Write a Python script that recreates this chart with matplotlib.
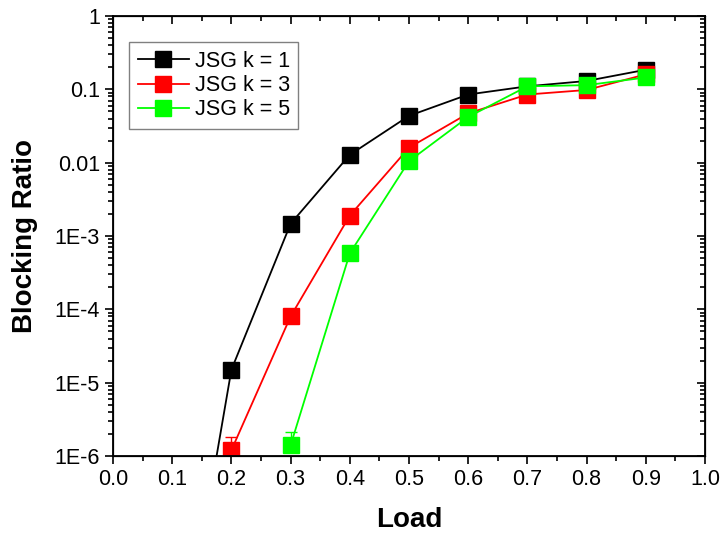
import matplotlib
matplotlib.use('Agg')
import matplotlib.pyplot as plt
from matplotlib.lines import Line2D
import numpy as np

plt.rcParams['font.family'] = ['Liberation Sans', 'DejaVu Sans']

load = [0.1, 0.2, 0.3, 0.4, 0.5, 0.6, 0.7, 0.8, 0.9]

# blocking ratio per series (nan = zero / not drawn on log axis)
k1 = [3e-10, 1.5e-5, 1.47e-3, 0.0128, 0.0435, 0.085, 0.11, 0.13, 0.185]
k1_err = [0, 1e-6, 5e-5, 4e-4, 1e-3, 2e-3, 5e-3, 6e-3, 8e-3]
k3 = [np.nan, 1.2e-6, 8.0e-5, 1.9e-3, 0.016, 0.047, 0.085, 0.098, 0.16]
k3_err = [0, 0.6e-6, 4e-6, 8e-5, 6e-4, 2e-3, 4e-3, 5e-3, 1.2e-2]
k5 = [np.nan, np.nan, 1.4e-6, 5.8e-4, 0.0105, 0.042, 0.11, 0.114, 0.145]
k5_err = [0, 0, 0.75e-6, 3e-5, 4e-4, 2e-3, 5e-3, 7e-3, 1.2e-2]

labels = ['JSG k = 1', 'JSG k = 3', 'JSG k = 5']
colors = ['#000000', '#ff0000', '#00ff00']

fig = plt.figure(figsize=(7.22, 5.34), dpi=100)
ax = fig.add_axes([113/722, 1 - 456/534, 592/722, 440/534])

handles = []
for y, e, lab, c in zip([k1, k3, k5], [k1_err, k3_err, k5_err], labels, colors):
    ax.errorbar(load, y, yerr=[np.zeros(len(e)), e], color=c, lw=1.3,
                marker='s', markersize=11.5, markeredgecolor=c,
                ecolor=c, elinewidth=1.0, capsize=4, capthick=1.0)
    handles.append(Line2D([], [], color=c, lw=1.3, marker='s', markersize=11.5,
                          markeredgecolor=c, label=lab))

ax.set_yscale('log')
ax.set_xlim(0.0, 1.0)
ax.set_ylim(1e-6, 1)

ax.set_xticks(np.arange(0, 1.01, 0.1))
ax.set_xticklabels(['%.1f' % v for v in np.arange(0, 1.01, 0.1)])
ax.set_xticks(np.arange(0.05, 1.0, 0.1), minor=True)
yt = [1e-6, 1e-5, 1e-4, 1e-3, 1e-2, 1e-1, 1]
ax.set_yticks(yt)
ax.set_yticklabels(['1E-6', '1E-5', '1E-4', '1E-3', '0.01', '0.1', '1'])
ax.yaxis.set_minor_locator(matplotlib.ticker.LogLocator(base=10, subs=np.arange(2, 10), numticks=20))
ax.yaxis.set_minor_formatter(matplotlib.ticker.NullFormatter())

ax.tick_params(which='both', direction='out', labelsize=15.5, width=1.2)
ax.tick_params(which='major', length=6)
ax.tick_params(which='minor', length=3.5)
for s in ax.spines.values():
    s.set_linewidth(1.3)

# inward ticks on top and right
tx = ax.twiny()
tx.set_xlim(ax.get_xlim())
tx.set_xticks(np.arange(0, 1.01, 0.1))
tx.set_xticks(np.arange(0.05, 1.0, 0.1), minor=True)
tx.tick_params(which='both', direction='in', labeltop=False, width=1.2)
tx.tick_params(which='major', length=6)
tx.tick_params(which='minor', length=3.5)
ty = ax.twinx()
ty.set_yscale('log')
ty.set_ylim(ax.get_ylim())
ty.set_yticks(yt)
ty.yaxis.set_minor_locator(matplotlib.ticker.LogLocator(base=10, subs=np.arange(2, 10), numticks=20))
ty.yaxis.set_minor_formatter(matplotlib.ticker.NullFormatter())
ty.tick_params(which='both', direction='in', labelright=False, width=1.2)
ty.tick_params(which='major', length=6)
ty.tick_params(which='minor', length=3.5)

ax.set_xlabel('Load', fontsize=20, fontweight='bold', labelpad=12)
ax.set_ylabel('Blocking Ratio', fontsize=20, fontweight='bold', labelpad=12)

leg = ax.legend(handles=handles, loc='upper left', bbox_to_anchor=(0.027, 0.94),
                borderaxespad=0, fontsize=15.5, fancybox=False, framealpha=1,
                edgecolor='#808080', handlelength=2.4, handletextpad=0.25,
                labelspacing=0.15, borderpad=0.4)
leg.get_frame().set_linewidth(1.0)

fig.savefig('out.png', dpi=100)
